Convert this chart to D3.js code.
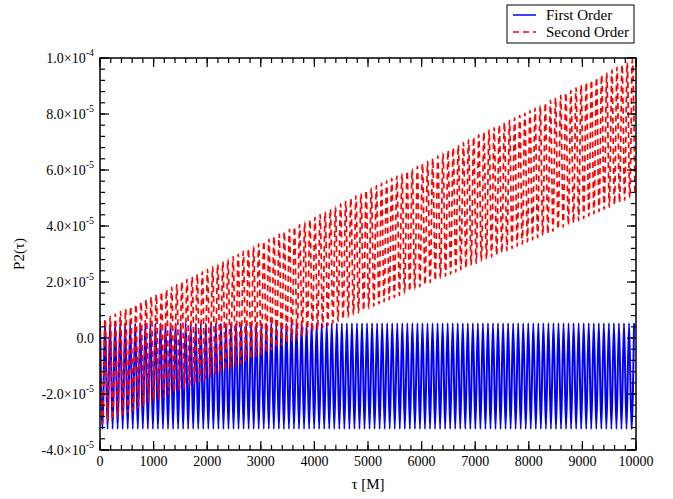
<!DOCTYPE html>
<meta charset="utf-8">
<title>P2(tau)</title>
<style>

body {
  margin: 0;
  background: #fff;
}

text {
  font-family: "Liberation Serif", "DejaVu Serif", serif;
  fill: #000;
}

</style>
<body>
<script src="https://cdn.jsdelivr.net/npm/d3@7/dist/d3.min.js"></script>
<script>
// envelope of each curve at every 1000 M
var tauKnots = [0, 1000, 2000, 3000, 4000, 5000, 6000, 7000, 8000, 9000, 10000];

var firstHigh = [0.53e-5, 0.53e-5, 0.53e-5, 0.53e-5, 0.53e-5, 0.53e-5, 0.53e-5, 0.53e-5, 0.53e-5, 0.53e-5, 0.53e-5],
    firstLow  = [-3.25e-5, -3.25e-5, -3.25e-5, -3.25e-5, -3.25e-5, -3.25e-5, -3.25e-5, -3.25e-5, -3.25e-5, -3.25e-5, -3.25e-5];

var secondHigh = [0.6e-5, 1.5e-5, 2.45e-5, 3.4e-5, 4.3e-5, 5.3e-5, 6.2e-5, 7.2e-5, 8.1e-5, 9.05e-5, 10.0e-5],
    secondLow  = [-3.1e-5, -2.25e-5, -1.45e-5, -0.6e-5, 0.25e-5, 1.05e-5, 1.85e-5, 2.65e-5, 3.45e-5, 4.25e-5, 5.1e-5];

// oscillation period (M) of each curve
var firstPeriod = 94,
    secondPeriod = 95.5;

var xTicks = [0, 1000, 2000, 3000, 4000, 5000, 6000, 7000, 8000, 9000, 10000];
var yTicks = [-4e-5, -2e-5, 0, 2e-5, 4e-5, 6e-5, 8e-5, 1e-4];
var yTickLabels = [["-4.0\u00d710", "-5"], ["-2.0\u00d710", "-5"], ["0.0", ""], ["2.0\u00d710", "-5"],
                   ["4.0\u00d710", "-5"], ["6.0\u00d710", "-5"], ["8.0\u00d710", "-5"], ["1.0\u00d710", "-4"]];

var legendNames = ["First Order", "Second Order"];

var w = 673,
    h = 499,
    mLeft = 100,
    mRight = 636,
    mTop = 58,
    mBottom = 450;

var x = d3.scaleLinear().domain([0, 10000]).range([mLeft, mRight]);
var y = d3.scaleLinear().domain([-4e-5, 1e-4]).range([mBottom, mTop]);

var svg = d3.select("body").append("svg")
    .attr("width", w)
    .attr("height", h);

// turning points: alternating maxima / minima along the envelopes
function turningPoints(period, high, low) {
  var hi = d3.scaleLinear().domain(tauKnots).range(high),
      lo = d3.scaleLinear().domain(tauKnots).range(low),
      pts = [],
      n = Math.floor(10000 / (period / 2));
  for (var k = 0; k <= n; k++) {
    var t = k * period / 2;
    pts.push([t, k % 2 ? lo(t) : hi(t)]);
  }
  return pts;
}

var line = d3.line()
    .x(function(d) { return x(d[0]); })
    .y(function(d) { return y(d[1]); })
    .curve(d3.curveMonotoneX);

svg.append("defs").append("clipPath").attr("id", "clip")
  .append("rect")
    .attr("x", mLeft).attr("y", mTop)
    .attr("width", mRight - mLeft).attr("height", mBottom - mTop);

var plot = svg.append("g").attr("clip-path", "url(#clip)");

plot.append("path")
    .attr("d", line(turningPoints(firstPeriod, firstHigh, firstLow)))
    .attr("fill", "none")
    .attr("stroke", "#0000ff")
    .attr("stroke-width", 2);

plot.append("path")
    .attr("d", line(turningPoints(secondPeriod, secondHigh, secondLow)))
    .attr("fill", "none")
    .attr("stroke", "#ff0000")
    .attr("stroke-width", 1.7)
    .attr("stroke-dasharray", "6,4");

// frame
svg.append("rect")
    .attr("x", mLeft).attr("y", mTop)
    .attr("width", mRight - mLeft).attr("height", mBottom - mTop)
    .attr("fill", "none")
    .attr("stroke", "#000")
    .attr("stroke-width", 1.5);

// ticks on all four sides, pointing inward
var xMinor = d3.range(0, 10001, 200),
    yMinor = d3.range(-40, 101, 4).map(function(d) { return d * 1e-6; });

function tickMarks(vals, len, horizontal) {
  vals.forEach(function(v) {
    if (horizontal) {
      var px = x(v);
      svg.append("line").attr("x1", px).attr("x2", px).attr("y1", mBottom).attr("y2", mBottom - len);
      svg.append("line").attr("x1", px).attr("x2", px).attr("y1", mTop).attr("y2", mTop + len);
    } else {
      var py = y(v);
      svg.append("line").attr("y1", py).attr("y2", py).attr("x1", mLeft).attr("x2", mLeft + len);
      svg.append("line").attr("y1", py).attr("y2", py).attr("x1", mRight).attr("x2", mRight - len);
    }
  });
}
tickMarks(xMinor, 5, true);
tickMarks(xTicks, 9, true);
tickMarks(yMinor, 5, false);
tickMarks(yTicks, 9, false);
svg.selectAll("line").attr("stroke", "#000").attr("stroke-width", 1.2);

svg.selectAll(".xlab")
    .data(xTicks)
  .enter().append("text")
    .attr("class", "xlab")
    .attr("x", function(d) { return x(d); })
    .attr("y", mBottom + 16)
    .attr("text-anchor", "middle")
    .style("font-size", "14px")
    .text(function(d) { return d; });

var ylab = svg.selectAll(".ylab")
    .data(yTicks)
  .enter().append("text")
    .attr("class", "ylab")
    .attr("x", mLeft - 6)
    .attr("y", function(d) { return y(d) + 5; })
    .attr("text-anchor", "end")
    .style("font-size", "14px");
ylab.append("tspan").text(function(d, i) { return yTickLabels[i][0]; });
ylab.append("tspan")
    .attr("dy", -7)
    .style("font-size", "10px")
    .text(function(d, i) { return yTickLabels[i][1]; });

svg.append("text")
    .attr("x", (mLeft + mRight) / 2)
    .attr("y", 489)
    .attr("text-anchor", "middle")
    .style("font-size", "15px")
    .text("\u03c4 [M]");

svg.append("text")
    .attr("transform", "translate(24," + ((mTop + mBottom) / 2) + ")rotate(-90)")
    .attr("text-anchor", "middle")
    .style("font-size", "15px")
    .text("P2(\u03c4)");

// legend
var lg = svg.append("g");
lg.append("rect")
    .attr("x", 507).attr("y", 5)
    .attr("width", 127).attr("height", 38)
    .attr("fill", "#fff")
    .attr("stroke", "#000")
    .attr("stroke-width", 1);
legendNames.forEach(function(name, i) {
  var ly = 15 + i * 17;
  lg.append("line")
      .attr("x1", 513).attr("x2", 536)
      .attr("y1", ly).attr("y2", ly)
      .attr("stroke", i ? "#ff0000" : "#0000ff")
      .attr("stroke-width", 1.5)
      .attr("stroke-dasharray", i ? "6,4" : null);
  lg.append("text")
      .attr("x", 546)
      .attr("y", ly + 5)
      .style("font-size", "15px")
      .text(name);
});
</script>
</body>
